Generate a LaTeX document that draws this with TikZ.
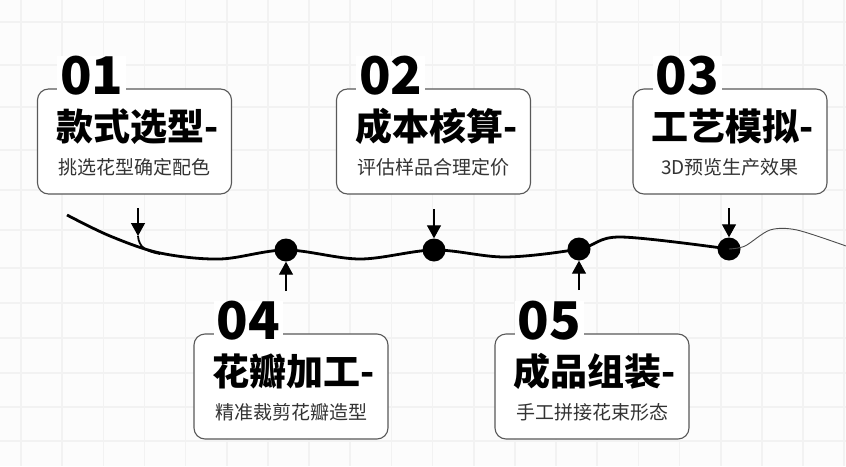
\documentclass[tikz,border=0pt]{standalone}
\usepackage{fontspec}
\setmainfont{Noto Sans CJK SC}
\usetikzlibrary{arrows.meta,calc}
\tikzset{
  card/.style={draw=black!65,line width=1.1pt,rounded corners=11pt,fill=white,minimum width=194pt,minimum height=105pt},
  num/.style={fill=white,inner xsep=3pt,inner ysep=0pt,anchor=west,font=\fontsize{52}{52}\selectfont\bfseries},
  ttl/.style={font=\fontsize{37}{40}\selectfont\bfseries},
  sub/.style={text=black!80,font=\fontsize{19}{21}\selectfont},
  dot/.style={circle,fill=black,minimum size=23pt,inner sep=0pt},
  arr/.style={line width=1.3pt,-{Triangle[width=14pt,length=13pt]}}
}
\begin{document}
\begin{tikzpicture}[x=1pt,y=-1pt]
	\useasboundingbox (0,0) rectangle (846,466);
	\fill[gray!2] (0,0) rectangle (846,466);
	\foreach \x in {0,...,20} \draw[gray!10,line width=1.6pt] (21+41.16*\x,0) -- (21+41.16*\x,466);
	\foreach \y in {22,65,107,150,190,230,268,303,338,373,407,441} \draw[gray!10,line width=1.6pt] (0,\y) -- (846,\y);
	\foreach \n/\x/\y/\t/\s in {1/134.5/141.5/款式选型-/挑选花型确定配色,2/433.5/141.5/成本核算-/评估样品合理定价,3/730/141.5/工艺模拟-/3D预览生产效果,4/291/386.5/花瓣加工-/精准裁剪花瓣造型,5/592/386.5/成品组装-/手工拼接花束形态} {
		\node[card] (b\n) at (\x,\y) {};
		\node[num] (n\n) at ($(b\n.north west)+(20,-13)$) {0\n};
		\node[ttl] (t\n) at ($(b\n.center)+(3,-15)$) {\t};
		\node[sub] (s\n) at ($(b\n.center)+(0,26)$) {\s};
	}
	\node[dot] (d1) at (286,250) {};
	\node[dot] (d2) at (434,250) {};
	\node[dot] (d3) at (579,249) {};
	\node[dot] (d4) at (729,249) {};
	\coordinate (k1) at (138,236);
	\draw[line width=2.8pt] plot[smooth,tension=0.55] coordinates {(67,215) (110,236) (160,253) (220,259) (d1.center) (360,259) (d2.center) (505,257) (d3.center) (620,237) (d4.center)};
	\draw[line width=0.9pt,black!70] plot[smooth] coordinates {(d4.center) (745,246) (770,230) (797,230) (846,246)};
	\draw[line width=1.8pt] (k1) .. controls (139,247) and (145,251) .. (160,254);
	\draw[arr] (138,208) -- (k1);
	\foreach \i in {2,4} \draw[arr] ($(d\i)+(0,-41)$) -- (d\i);
	\foreach \i in {1,3} \draw[arr] ($(d\i)+(0,41)$) -- (d\i);
\end{tikzpicture}
\end{document}
